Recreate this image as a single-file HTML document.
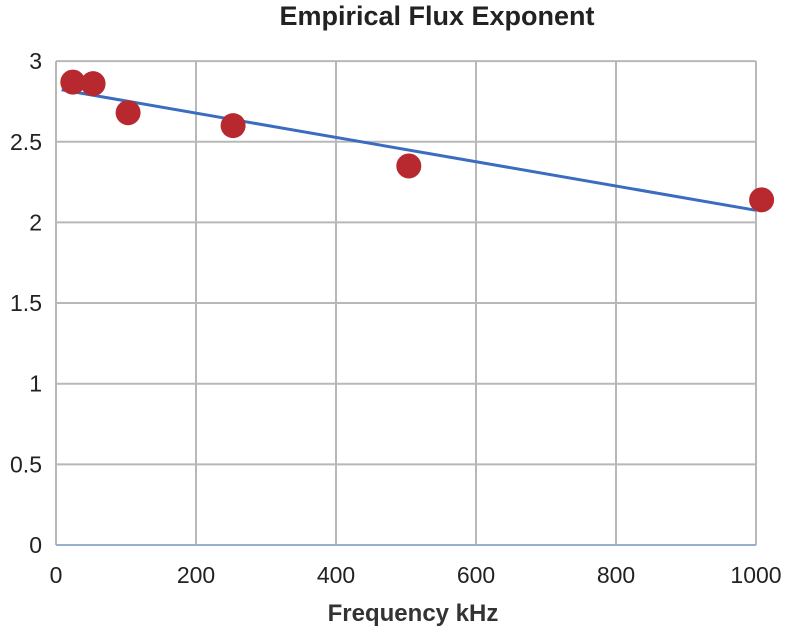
<!DOCTYPE html>
<html><head><meta charset="utf-8"><style>
body{margin:0;background:#fff;}
svg{display:block;font-family:"Liberation Sans",sans-serif;}
</style></head><body>
<svg id="chart" width="800" height="632" viewBox="0 0 800 632">
<text x="437" y="25" text-anchor="middle" font-size="27" font-weight="bold" fill="#222">Empirical Flux Exponent</text>
<g id="grid"></g><g id="axes"></g><g id="series"></g>
<text x="413" y="621" text-anchor="middle" font-size="24" font-weight="bold" fill="#333">Frequency kHz</text>
</svg>
<script>
const xTicks=[0,200,400,600,800,1000];
const yTicks=[0,0.5,1,1.5,2,2.5,3];
const yTickLabels=["0","0.5","1","1.5","2","2.5","3"];
const freqs=[24,53,103,253,504,1008];
const exponents=[2.87,2.86,2.68,2.60,2.35,2.14];
const trendStart=[8,2.822];
const trendEnd=[1000,2.075];
const X=v=>56+v*0.7, Y=v=>545-v*161.3;
const ns="http://www.w3.org/2000/svg";
function mk(t,a,p){const e=document.createElementNS(ns,t);for(const k in a)e.setAttribute(k,a[k]);p.appendChild(e);return e;}
const grid=document.getElementById('grid'),axes=document.getElementById('axes'),ser=document.getElementById('series');
xTicks.forEach(v=>{
 const l=mk('line',{x1:X(v),x2:X(v),y1:Y(3),y2:Y(0),stroke:'#b8b8b8','stroke-width':2},grid);
 
 
 const t=mk('text',{x:X(v),y:583,'text-anchor':'middle','font-size':23,fill:'#222'},axes);t.textContent=v;
 
 
});
yTicks.forEach((v,i)=>{
 const l=mk('line',{x1:X(0),x2:X(1000),y1:Y(v),y2:Y(v),stroke:v===0?'#9aaed0':'#b8b8b8','stroke-width':2},grid);
 
 
 const t=mk('text',{x:42,y:Y(v)+8,'text-anchor':'end','font-size':23,fill:'#222'},axes);t.textContent=yTickLabels[i];
 
 
});
const tl=mk('line',{x1:X(trendStart[0]),y1:Y(trendStart[1]),x2:X(trendEnd[0]),y2:Y(trendEnd[1]),stroke:'#3a6cc0','stroke-width':3},ser);


freqs.forEach((f,i)=>{
 const c=mk('circle',{cx:X(f),cy:Y(exponents[i]),r:12.5,fill:'#b8292f'},ser);
 
 
});
</script>
</body></html>
